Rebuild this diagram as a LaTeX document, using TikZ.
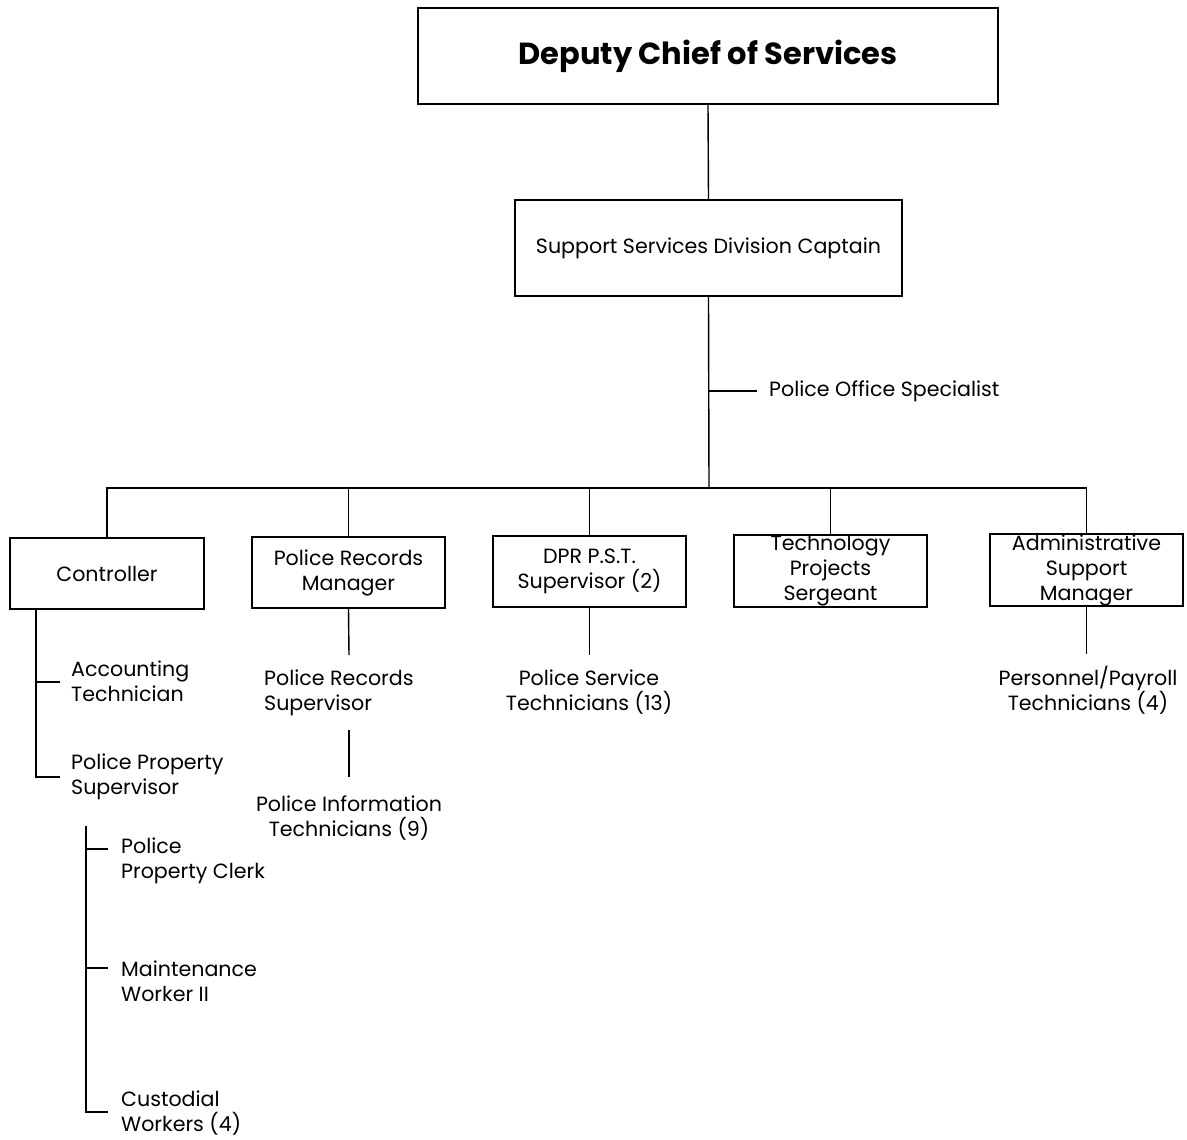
\documentclass[tikz,border=0pt]{standalone}
\usepackage{fontspec}
\setmainfont{Poppins}
\begin{document}
\begin{tikzpicture}[x=1pt,y=-1pt,
  box/.style={draw,line width=2pt,inner sep=0pt},
  lbl/.style={font=\fontsize{20.6}{25}\selectfont,inner sep=0pt},
  conn/.style={line width=1.4pt}]
\useasboundingbox (0,0) rectangle (1187,1140);
% boxes
\node[box,minimum width=580pt,minimum height=96pt,font=\fontsize{30.5}{34}\selectfont\bfseries] (dcs) at (708,56) {Deputy Chief of Services};
\node[box,minimum width=387pt,minimum height=96pt,lbl] (ssdc) at (708.5,248) {Support Services Division Captain};
\node[box,minimum width=194pt,minimum height=71pt] (ctrl) at (107,573.5) {};
\node[lbl] at (ctrl.center) {Controller};
\node[box,minimum width=193pt,minimum height=71pt] (prm) at (348.5,572.5) {};
\node[lbl,align=center] at (prm.center) {Police Records\\Manager};
\node[box,minimum width=193pt,minimum height=71pt] (dpr) at (589.5,571.5) {};
\node[lbl,align=center] at (dpr.center) {DPR P.S.T.\\Supervisor (2)};
\node[box,minimum width=193pt,minimum height=72pt] (tech) at (830.5,571) {};
\node[lbl,align=center] at (tech.center) {Technology\\Projects\\Sergeant};
\node[box,minimum width=193pt,minimum height=72pt] (adm) at (1086.5,570) {};
\node[lbl,align=center] at (adm.center) {Administrative\\Support\\Manager};
% top connectors
\coordinate (bar) at (709,488);
\draw[conn] (dcs.south) -- (ssdc.north);
\draw[conn] (ssdc.south) -- (bar);
\coordinate (posj) at (709,391);
\coordinate (pose) at (757,391);
\draw[conn] (posj) -- (pose);
\node[lbl,anchor=west] (pos) at (769,391) {Police Office Specialist};
\draw[conn] (ctrl.north) |- (adm.north |- bar) -- (adm.north);
\draw[conn] (prm.north) -- (prm.north |- bar);
\draw[conn] (dpr.north) -- (dpr.north |- bar);
\draw[conn] (tech.north) -- (tech.north |- bar);
% controller branch
\coordinate (c0) at (36,609);
\coordinate (c1) at (36,682);
\coordinate (c1e) at (60,682);
\coordinate (c2) at (36,777);
\coordinate (c2e) at (60,777);
\draw[conn] (c0) -- (c2) -- (c2e);
\draw[conn] (c1) -- (c1e);
\node[lbl,align=left,anchor=west] (acct) at (71,681) {Accounting\\Technician};
\node[lbl,align=left,anchor=west] (pps) at (71,777) {Police Property\\Supervisor};
\coordinate (p0) at (86,826);
\coordinate (p1) at (86,849);
\coordinate (p1e) at (108,849);
\coordinate (p2) at (86,968);
\coordinate (p2e) at (108,968);
\coordinate (p3) at (86,1112);
\coordinate (p3e) at (108,1112);
\draw[conn] (p0) -- (p3) -- (p3e);
\draw[conn] (p1) -- (p1e);
\draw[conn] (p2) -- (p2e);
\node[lbl,align=left,anchor=west] (ppc) at (121,861) {Police\\Property Clerk};
\node[lbl,align=left,anchor=west] (mw) at (121,981) {Maintenance\\Worker II};
\node[lbl,align=left,anchor=west] (cw) at (121,1113) {Custodial\\Workers (4)};
% records branch
\coordinate (r1) at (349,655);
\draw[conn] (prm.south) -- (r1);
\node[lbl,align=left,anchor=west] (prs) at (264,693) {Police Records\\Supervisor};
\coordinate (r2) at (349,730);
\coordinate (r3) at (349,777);
\draw[conn] (r2) -- (r3);
\node[lbl,align=center] (pit) at (349,818) {Police Information\\Technicians (9)};
% DPR branch
\coordinate (d1) at (589.5,655);
\draw[conn] (dpr.south) -- (d1);
\node[lbl,align=center] (pst) at (589,692) {Police Service\\Technicians (13)};
% admin branch
\coordinate (a1) at (1086.5,654);
\draw[conn] (adm.south) -- (a1);
\node[lbl,align=center] (ppt) at (1088,690) {Personnel/Payroll\\Technicians (4)};
\end{tikzpicture}
\end{document}
